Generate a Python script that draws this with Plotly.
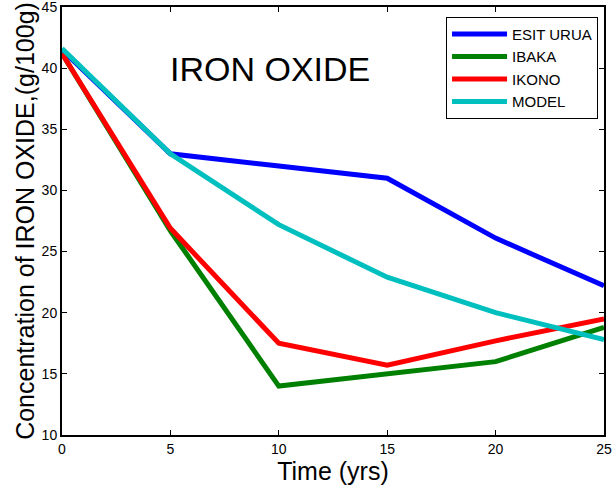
import plotly.graph_objects as go

time_yrs = [0, 5, 10, 15, 20, 25]
esit_urua = [41.5, 33.0, 32.0, 31.0, 26.1, 22.2]
ibaka = [41.2, 26.7, 14.0, 15.0, 16.0, 18.8]
ikono = [41.2, 26.9, 17.5, 15.7, 17.7, 19.5]
model = [41.6, 33.0, 27.2, 22.9, 20.0, 17.8]

series = [
    ("ESIT URUA", esit_urua, "#0000ff"),
    ("IBAKA", ibaka, "#008000"),
    ("IKONO", ikono, "#ff0000"),
    ("MODEL", model, "#00bfbf"),
]

fig = go.Figure()
for name, vals, col in series:
    fig.add_trace(go.Scatter(x=time_yrs, y=vals, mode="lines", name=name,
                             line=dict(color=col, width=5)))

axis_common = dict(showgrid=False, zeroline=False, showline=True, linecolor="black",
                   linewidth=2, mirror="ticks", ticks="inside", ticklen=5,
                   tickcolor="black", tickwidth=1, ticklabeloverflow="allow",
                   automargin=False,
                   tickfont=dict(size=14, color="black"))

fig.update_layout(
    width=615, height=488,
    margin=dict(l=62, r=11, t=7, b=53),
    paper_bgcolor="white", plot_bgcolor="white",
    font=dict(family="Liberation Sans, Arial, sans-serif", color="black"),
    xaxis=dict(range=[0, 25], tickvals=[0, 5, 10, 15, 20, 25],
               title=dict(text="Time (yrs)", font=dict(size=25), standoff=6), **axis_common),
    yaxis=dict(range=[10, 45], tickvals=[10, 15, 20, 25, 30, 35, 40, 45],
               title=dict(text="Concentration of IRON OXIDE,(g/100g)", font=dict(size=25), standoff=0),
               **axis_common),
    legend=dict(x=0.989, y=0.977, xanchor="right", yanchor="top",
                bordercolor="black", borderwidth=1, bgcolor="white",
                font=dict(size=15), tracegroupgap=0, itemwidth=55),
    annotations=[dict(text="IRON OXIDE", x=9.6, y=39.9, xref="x", yref="y",
                      showarrow=False, font=dict(size=34, color="black"))],
)

fig.write_html("out.html")
